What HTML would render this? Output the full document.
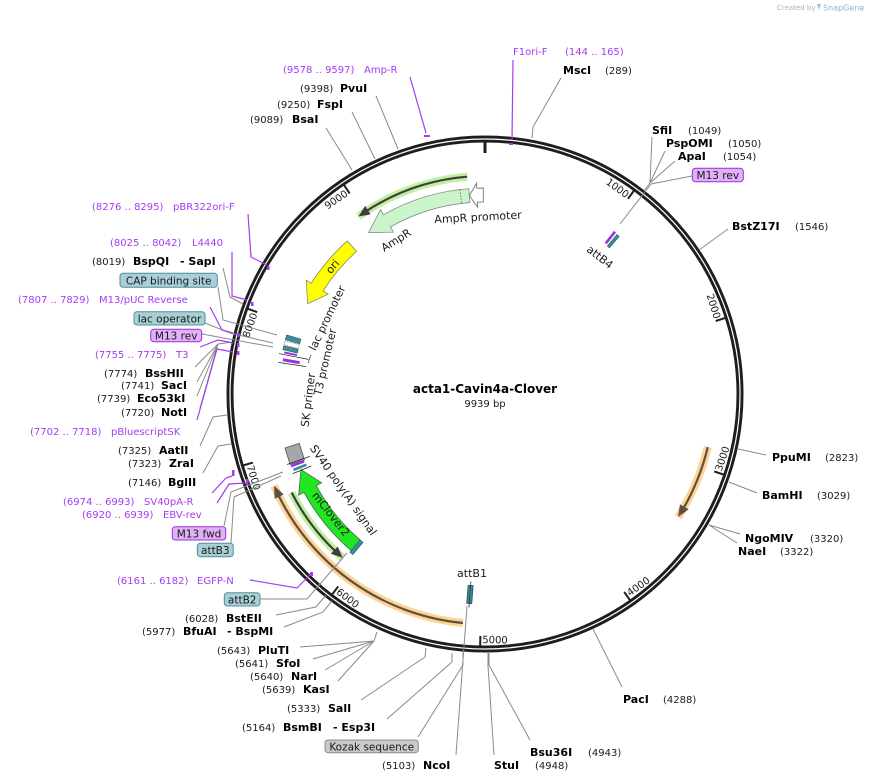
<!DOCTYPE html>
<html><head><meta charset="utf-8"><style>
html,body{margin:0;padding:0;background:#fff;}
svg{display:block;}
.n{font-size:10px;fill:#1a1a1a}
.b{font-size:11px;font-weight:bold;fill:#000}
.p{font-size:10px;fill:#a53bf2}
.f{font-size:11px;fill:#1a1a1a}
.bx{font-size:10.5px;fill:#1a1a1a}
.c{stroke:#8a8a8a;stroke-width:1;fill:none}
.pc{stroke:#a53bf2;stroke-width:1.2;fill:none}
.tk{stroke:#1e1e1e;stroke-width:2}
</style></head><body>
<svg width="874" height="782" viewBox="0 0 874 782" xmlns="http://www.w3.org/2000/svg" font-family="DejaVu Sans, Liberation Sans, sans-serif">
<rect width="874" height="782" fill="#fff"/>

<!-- SnapGene credit -->
<text x="777" y="10" font-size="7" fill="#b0b0b0">Created by</text>
<path d="M817 4 l4 0 l-2 6 z" fill="#9cc4dc"/>
<text x="823" y="10.5" font-size="8" fill="#8fb0c8">SnapGene</text>

<!-- ORF halos and lines -->
<g transform="rotate(-35.5 485 394)">
 <path d="M596.6 206.7 A218 218 0 0 0 485 176" stroke="#c3f0a0" stroke-width="8" fill="none"/>
 <path d="M596.6 206.7 A218 218 0 0 0 492.6 176.1" stroke="#3f3f3f" stroke-width="2.2" fill="none"/>
 <path d="M485 176 L496.1 181.3 L496.7 171.3 Z" fill="#3f3f3f"/>
</g>
<g transform="rotate(246.5 485 394)">
 <path d="M283.8 282.5 A230 230 0 0 1 485 164" stroke="#fdd493" stroke-width="8" fill="none"/>
 <path d="M283.8 282.5 A230 230 0 0 1 477 164.1" stroke="#5d5140" stroke-width="2.2" fill="none"/>
 <path d="M485 164 L473.2 169.3 L472.7 159.3 Z" fill="#5d5140"/>
</g>
<g transform="rotate(122.5 485 394)">
 <path d="M410.1 177.6 A229 229 0 0 1 485 165" stroke="#fdd493" stroke-width="8" fill="none"/>
 <path d="M410.1 177.6 A229 229 0 0 1 477 165.1" stroke="#5d5140" stroke-width="2.2" fill="none"/>
 <path d="M485 165 L473.3 170.3 L472.8 160.3 Z" fill="#5d5140"/>
</g>
<g transform="rotate(221 485 394)">
 <path d="M566.3 192.8 A217 217 0 0 0 485 177" stroke="#c3f0a0" stroke-width="8" fill="none"/>
 <path d="M566.3 192.8 A217 217 0 0 0 492.6 177.1" stroke="#3f3f3f" stroke-width="2.2" fill="none"/>
 <path d="M485 177 L496.1 182.3 L496.6 172.3 Z" fill="#3f3f3f"/>
</g>

<!-- AmpR -->
<g transform="rotate(-35.8 485 394)">
 <path d="M485 195 L508.3 183.3 L507.6 189.2 A206 206 0 0 1 592 218 L584.7 229.9 A192 192 0 0 0 506.1 203.2 L505.4 209.1 Z" fill="#ccf4cc" stroke="#7f8f7f" stroke-width="0.8"/>
 <line x1="584.3" y1="213.5" x2="577.5" y2="225.8" stroke="#555" stroke-width="0.8" stroke-dasharray="1.5 1.5"/>
</g>
<!-- AmpR promoter -->
<g transform="rotate(-4.5 485 394)">
 <path d="M485 195 L493.1 183.2 L492.9 188.2 L499.4 188.5 L498.4 202.5 L492.4 202.1 L492.2 207.1 Z" fill="#fff" stroke="#777" stroke-width="0.9"/>
</g>
<!-- ori -->
<g transform="rotate(-63 485 394)">
 <path d="M485 195 L505.3 183 L504.7 188.9 A206 206 0 0 1 558.8 201.7 L553.8 214.8 A192 192 0 0 0 503.4 202.9 L502.8 208.9 Z" fill="#ffff00" stroke="#8a8a60" stroke-width="0.8"/>
</g>
<!-- mClover2 -->
<g transform="rotate(247.7 485 394)">
 <path d="M485 195 L462.1 183.2 L462.8 189.2 A206 206 0 0 0 390.8 210.8 L397.2 223.2 A192 192 0 0 1 464.3 203.1 L464.9 209.1 Z" fill="#22e622" stroke="#4a6a4a" stroke-width="0.8"/>
</g>
<!-- SV40 box -->
<g transform="rotate(252.5 485 394)">
 <rect x="476.3" y="187" width="17.4" height="15" fill="#a4a7ae" stroke="#555" stroke-width="0.8"/>
</g>
<g transform="rotate(249.5 485 394)"><rect x="484" y="187" width="2.6" height="14" fill="#9b30e0"/></g>
<g transform="rotate(248.3 485 394)"><rect x="484" y="188" width="2.6" height="14" fill="#3a8c9c"/></g>
<g transform="rotate(250.4 485 394)"><line x1="485" y1="184" x2="485" y2="208" stroke="#222" stroke-width="0.8"/></g>
<g transform="rotate(247.5 485 394)"><line x1="485" y1="186" x2="485" y2="206" stroke="#222" stroke-width="0.8"/></g>
<!-- attB2 slab at mClover end -->
<g transform="rotate(220 485 394)"><rect x="483" y="186" width="4" height="16" fill="#3a8c9c" stroke="#1f4f58" stroke-width="0.5"/></g>
<!-- attB4 -->
<g transform="rotate(38.7 485 394)"><rect x="483.7" y="186" width="2.6" height="15" fill="#9b30e0"/></g>
<g transform="rotate(40 485 394)"><rect x="483.5" y="187" width="3" height="15" fill="#3a8c9c" stroke="#1f4f58" stroke-width="0.5"/></g>
<!-- attB1 -->
<g transform="rotate(184.3 485 394)"><rect x="482.5" y="184" width="5" height="18" fill="#3a8c9c" stroke="#1f4f58" stroke-width="0.8"/><line x1="485" y1="180" x2="485" y2="206" stroke="#333" stroke-width="0.8"/></g>
<!-- left cluster -->
<g transform="rotate(-74.1 485 394)"><rect x="482.5" y="187" width="5" height="15" fill="#3c8d9a" stroke="#1f4f58" stroke-width="0.5"/></g>
<g transform="rotate(-75.7 485 394)"><rect x="483" y="187" width="4" height="15" fill="#fff" stroke="#555" stroke-width="0.6" stroke-dasharray="1 1"/></g>
<g transform="rotate(-77.1 485 394)"><rect x="483" y="187" width="4" height="15" fill="#3c8d9a" stroke="#1f4f58" stroke-width="0.5"/></g>
<g transform="rotate(-78.3 485 394)"><rect x="484" y="189" width="2" height="13" fill="#9b30e0"/></g>
<g transform="rotate(-78.9 485 394)"><line x1="485" y1="184" x2="485" y2="214" stroke="#222" stroke-width="0.7"/></g>
<g transform="rotate(-80.4 485 394)"><rect x="483.5" y="189" width="3" height="17" fill="#9b30e0"/></g>
<g transform="rotate(-81.3 485 394)"><line x1="485" y1="185" x2="485" y2="213" stroke="#222" stroke-width="0.7"/></g>

<!-- main ring -->
<circle cx="485" cy="394" r="255" fill="none" stroke="#1e1e1e" stroke-width="7"/>
<circle cx="485" cy="394" r="255" fill="none" stroke="#fff" stroke-width="1.2"/>
<line x1="485" y1="142" x2="485" y2="153" stroke="#1e1e1e" stroke-width="3"/>
<g class="tk">
 <line x1="485" y1="142" x2="485" y2="152" transform="rotate(36.22 485 394)"/>
 <line x1="485" y1="142" x2="485" y2="152" transform="rotate(72.44 485 394)"/>
 <line x1="485" y1="142" x2="485" y2="152" transform="rotate(108.66 485 394)"/>
 <line x1="485" y1="142" x2="485" y2="152" transform="rotate(144.88 485 394)"/>
 <line x1="485" y1="142" x2="485" y2="152" transform="rotate(181.10 485 394)"/>
 <line x1="485" y1="142" x2="485" y2="152" transform="rotate(217.33 485 394)"/>
 <line x1="485" y1="142" x2="485" y2="152" transform="rotate(253.55 485 394)"/>
 <line x1="485" y1="142" x2="485" y2="152" transform="rotate(289.77 485 394)"/>
 <line x1="485" y1="142" x2="485" y2="152" transform="rotate(325.99 485 394)"/>
</g>
<g class="n">
 <text x="483" y="153" text-anchor="end" transform="rotate(36.22 485 394)">1000</text>
 <text x="483" y="153" text-anchor="end" transform="rotate(72.44 485 394)">2000</text>
 <text x="487" y="643" transform="rotate(-71.34 485 394)">3000</text>
 <text x="487" y="643" transform="rotate(-35.12 485 394)">4000</text>
 <text x="487" y="643" transform="rotate(1.10 485 394)">5000</text>
 <text x="487" y="643" transform="rotate(37.33 485 394)">6000</text>
 <text x="487" y="643" transform="rotate(73.55 485 394)">7000</text>
 <text x="483" y="153" text-anchor="end" transform="rotate(-70.23 485 394)">8000</text>
 <text x="483" y="153" text-anchor="end" transform="rotate(-34.01 485 394)">9000</text>
</g>

<!-- center title -->
<text x="485" y="393" text-anchor="middle" font-size="12" font-weight="bold" fill="#000">acta1-Cavin4a-Clover</text>
<text x="485" y="407" text-anchor="middle" class="n">9939 bp</text>

<!-- feature labels -->
<text class="f" text-anchor="middle" transform="translate(478 217) rotate(-3)" dy=".35em">AmpR promoter</text>
<text class="f" text-anchor="middle" transform="translate(396 240) rotate(-32)" dy=".35em">AmpR</text>
<text class="f" text-anchor="middle" transform="translate(332.5 266.5) rotate(-50)" dy=".35em">ori</text>
<text class="f" text-anchor="middle" transform="translate(327 318) rotate(-64.5)" dy=".35em">lac promoter</text>
<text class="f" text-anchor="middle" transform="translate(325 362) rotate(-77)" dy=".35em">T3 promoter</text>
<text class="f" text-anchor="middle" transform="translate(308 400) rotate(-83)" dy=".35em">SK primer</text>
<line x1="308" y1="363" x2="311" y2="355" stroke="#444" stroke-width="0.8"/>
<text class="f" text-anchor="middle" transform="translate(343.5 490) rotate(55)" dy=".35em">SV40 poly(A) signal</text>
<text class="f" text-anchor="middle" transform="translate(331 514) rotate(52)" dy=".35em">mClover2</text>
<text class="f" text-anchor="middle" transform="translate(600 257) rotate(38)" dy=".35em">attB4</text>
<text class="f" x="472" y="577" text-anchor="middle">attB1</text>

<!-- connectors (grey) -->
<g class="c">
 <polyline points="561,78 533,127 532,138"/>
 <polyline points="376,96 398,149"/>
 <polyline points="352,112 375,159"/>
 <polyline points="326,128 352,170"/>
 <polyline points="644,191 650,183 652,137"/>
 <polyline points="650,183 665,151"/>
 <polyline points="650,183 675,161"/>
 <polyline points="651,184 692,176"/>
 <polyline points="651,184 620,224"/>
 <polyline points="699,250 728,229"/>
 <polyline points="738,449 766,455"/>
 <polyline points="729,482 757,493"/>
 <polyline points="709,525 740,534"/>
 <polyline points="709,525 737,543"/>
 <polyline points="593,629 622,687"/>
 <polyline points="489,653 489,665 530,740"/>
 <polyline points="488,653 488,666 494,755"/>
 <polyline points="467,606 456,755"/>
 <polyline points="463,653 463,665 418,737"/>
 <polyline points="452,653 452,662 387,719"/>
 <polyline points="426,648 425,657 361,700"/>
 <polyline points="377,632 374,641 300,647"/>
 <polyline points="374,641 313,659"/>
 <polyline points="374,641 325,670"/>
 <polyline points="374,641 338,681"/>
 <polyline points="326,595 316,607 276,615"/>
 <polyline points="332,601 323,612 284,627"/>
 <polyline points="260,599 307,599 347,553"/>
 <polyline points="224,526 231,492 283,472"/>
 <polyline points="231,543 234,497 281,476"/>
 <polyline points="203,473 218,446 231,444"/>
 <polyline points="200,446 213,417 227,415"/>
 <polyline points="195,367 218,344 232,342"/>
 <polyline points="197,382 218,344"/>
 <polyline points="197,396 218,344"/>
 <polyline points="200,408 218,344"/>
 <polyline points="202,334 273,347"/>
 <polyline points="205,323 230,333 273,343"/>
 <polyline points="218,287 223,320 277,335"/>
 <polyline points="223,268 230,297 243,304"/>
</g>
<!-- connectors (purple) -->
<g class="pc">
 <polyline points="410,77 426,133"/>
 <polyline points="513,60 512,140"/>
 <polyline points="248,214 251,257 267,265"/>
 <polyline points="232,252 232,296 247,300"/>
 <polyline points="210,307 222,330 233,333"/>
 <polyline points="200,347 218,340 233,343"/>
 <polyline points="197,420 217,349 233,352"/>
 <polyline points="212,493 226,478 232,476"/>
 <polyline points="217,503 229,484 246,483"/>
 <polyline points="250,580 297,588 310,575"/>
</g>
<g fill="#a53bf2">
 <rect x="424" y="135" width="6" height="2"/>
 <rect x="509" y="143" width="4" height="2"/>
 <rect x="267" y="266" width="2.5" height="4"/>
 <rect x="251" y="302" width="2.5" height="4"/>
 <rect x="237" y="333" width="2.5" height="4"/>
 <rect x="237" y="343" width="2.5" height="4"/>
 <rect x="237" y="351" width="2.5" height="4"/>
 <rect x="232" y="470" width="2.5" height="6"/>
 <rect x="246" y="479" width="2.5" height="6"/>
 <rect x="310" y="572" width="3" height="4"/>
</g>

<!-- labels top -->
<text class="p" x="513" y="55">F1ori-F</text><text class="p" x="565" y="55">(144 .. 165)</text>
<text class="b" x="563" y="74">MscI</text><text class="n" x="605" y="74">(289)</text>
<text class="p" x="283" y="73">(9578 .. 9597)</text><text class="p" x="364" y="73">Amp-R</text>
<text class="n" x="300" y="92">(9398)</text><text class="b" x="340" y="92">PvuI</text>
<text class="n" x="277" y="108">(9250)</text><text class="b" x="317" y="108">FspI</text>
<text class="n" x="250" y="123">(9089)</text><text class="b" x="292" y="123">BsaI</text>

<!-- labels right -->
<text class="b" x="652" y="134">SfiI</text><text class="n" x="688" y="134">(1049)</text>
<text class="b" x="666" y="147">PspOMI</text><text class="n" x="728" y="147">(1050)</text>
<text class="b" x="678" y="160">ApaI</text><text class="n" x="723" y="160">(1054)</text>
<rect x="692.3" y="168.3" width="51" height="13.4" rx="3" fill="#e0b0f8" stroke="#9b30d9" stroke-width="1"/>
<text class="bx" x="717.8" y="179" text-anchor="middle">M13 rev</text>
<text class="b" x="732" y="230">BstZ17I</text><text class="n" x="795" y="230">(1546)</text>
<text class="b" x="772" y="461">PpuMI</text><text class="n" x="825" y="461">(2823)</text>
<text class="b" x="762" y="499">BamHI</text><text class="n" x="817" y="499">(3029)</text>
<text class="b" x="745" y="542">NgoMIV</text><text class="n" x="810" y="542">(3320)</text>
<text class="b" x="738" y="555">NaeI</text><text class="n" x="780" y="555">(3322)</text>

<!-- labels bottom -->
<text class="b" x="623" y="703">PacI</text><text class="n" x="663" y="703">(4288)</text>
<text class="b" x="530" y="756">Bsu36I</text><text class="n" x="588" y="756">(4943)</text>
<text class="b" x="494" y="769">StuI</text><text class="n" x="535" y="769">(4948)</text>
<text class="n" x="382" y="769">(5103)</text><text class="b" x="423" y="769">NcoI</text>
<rect x="325" y="740" width="93.3" height="12.7" rx="3" fill="#c9c9c9" stroke="#8c8c8c" stroke-width="1"/>
<text class="bx" x="371.7" y="750.5" text-anchor="middle">Kozak sequence</text>
<text class="n" x="242" y="731">(5164)</text><text class="b" x="283" y="731">BsmBI</text><text class="b" x="333" y="731">- Esp3I</text>
<text class="n" x="287" y="712">(5333)</text><text class="b" x="328" y="712">SalI</text>
<text class="n" x="262" y="693">(5639)</text><text class="b" x="303" y="693">KasI</text>
<text class="n" x="250" y="680">(5640)</text><text class="b" x="291" y="680">NarI</text>
<text class="n" x="235" y="667">(5641)</text><text class="b" x="276" y="667">SfoI</text>
<text class="n" x="217" y="654">(5643)</text><text class="b" x="258" y="654">PluTI</text>
<text class="n" x="142" y="635">(5977)</text><text class="b" x="183" y="635">BfuAI</text><text class="b" x="227" y="635">- BspMI</text>
<text class="n" x="185" y="622">(6028)</text><text class="b" x="226" y="622">BstEII</text>
<rect x="224.3" y="592.7" width="35.7" height="13.3" rx="3" fill="#a9cfd7" stroke="#4e8f9a" stroke-width="1"/>
<text class="bx" x="242.2" y="603.5" text-anchor="middle">attB2</text>
<text class="p" x="117" y="584">(6161 .. 6182)</text><text class="p" x="197" y="584">EGFP-N</text>

<!-- labels left -->
<rect x="197.3" y="543.3" width="36" height="13.4" rx="3" fill="#a9cfd7" stroke="#4e8f9a" stroke-width="1"/>
<text class="bx" x="215.3" y="554" text-anchor="middle">attB3</text>
<rect x="172.3" y="526.7" width="53.4" height="13.3" rx="3" fill="#e0b0f8" stroke="#9b30d9" stroke-width="1"/>
<text class="bx" x="199" y="537.5" text-anchor="middle">M13 fwd</text>
<text class="p" x="82" y="518">(6920 .. 6939)</text><text class="p" x="163" y="518">EBV-rev</text>
<text class="p" x="63" y="505">(6974 .. 6993)</text><text class="p" x="144" y="505">SV40pA-R</text>
<text class="n" x="128" y="486">(7146)</text><text class="b" x="168" y="486">BglII</text>
<text class="n" x="128" y="467">(7323)</text><text class="b" x="169" y="467">ZraI</text>
<text class="n" x="118" y="454">(7325)</text><text class="b" x="159" y="454">AatII</text>
<text class="p" x="30" y="435">(7702 .. 7718)</text><text class="p" x="111" y="435">pBluescriptSK</text>
<text class="n" x="121" y="416">(7720)</text><text class="b" x="161" y="416">NotI</text>
<text class="n" x="97" y="402">(7739)</text><text class="b" x="137" y="402">Eco53kI</text>
<text class="n" x="121" y="389">(7741)</text><text class="b" x="161" y="389">SacI</text>
<text class="n" x="104" y="377">(7774)</text><text class="b" x="145" y="377">BssHII</text>
<text class="p" x="95" y="358">(7755 .. 7775)</text><text class="p" x="176" y="358">T3</text>
<rect x="150.7" y="329.3" width="51" height="12.4" rx="3" fill="#e0b0f8" stroke="#9b30d9" stroke-width="1"/>
<text class="bx" x="176.2" y="339.5" text-anchor="middle">M13 rev</text>
<rect x="134" y="311.7" width="71" height="13.3" rx="3" fill="#a9cfd7" stroke="#4e8f9a" stroke-width="1"/>
<text class="bx" x="169.5" y="322.3" text-anchor="middle">lac operator</text>
<text class="p" x="18" y="303">(7807 .. 7829)</text><text class="p" x="99" y="303">M13/pUC Reverse</text>
<rect x="120" y="273.3" width="97.3" height="14" rx="3" fill="#a9cfd7" stroke="#4e8f9a" stroke-width="1"/>
<text class="bx" x="168.7" y="284.3" text-anchor="middle">CAP binding site</text>
<text class="n" x="92" y="265">(8019)</text><text class="b" x="133" y="265">BspQI</text><text class="b" x="180" y="265">- SapI</text>
<text class="p" x="110" y="246">(8025 .. 8042)</text><text class="p" x="192" y="246">L4440</text>
<text class="p" x="92" y="210">(8276 .. 8295)</text><text class="p" x="173" y="210">pBR322ori-F</text>
</svg>
</body></html>
